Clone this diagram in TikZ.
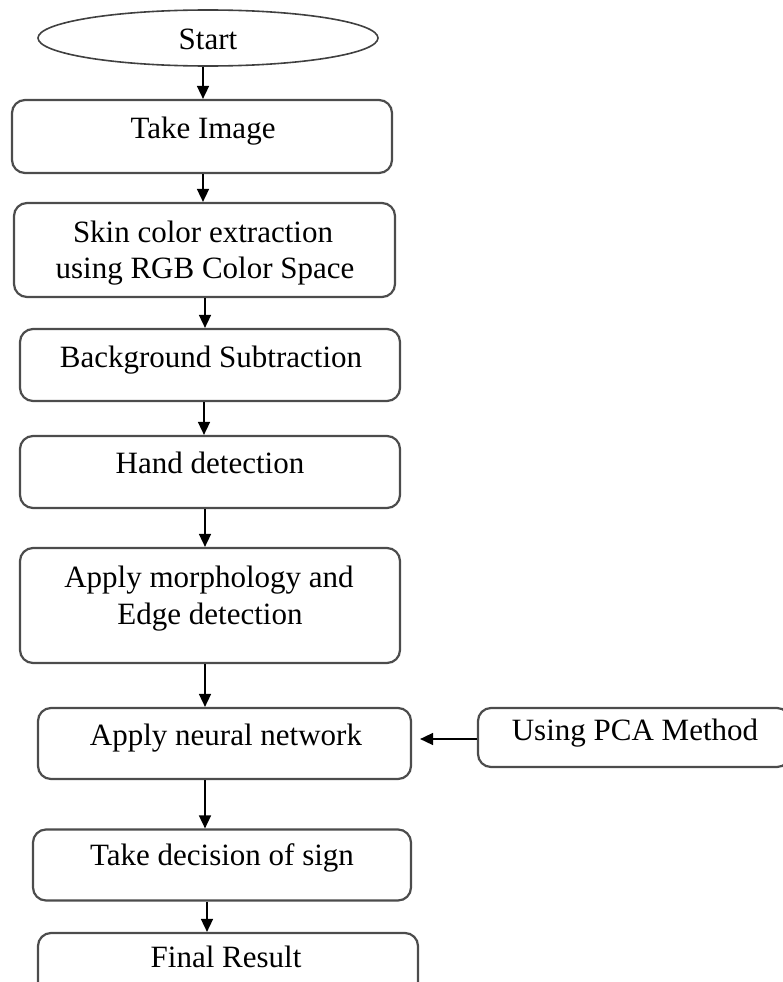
\documentclass[tikz,border=0pt]{standalone}
\usepackage{fontspec}
\setmainfont{Liberation Serif}
\usetikzlibrary{shapes.geometric,arrows.meta}
\begin{document}
\begin{tikzpicture}[x=1pt,y=-1pt,
  box/.style={draw=black!70, line width=2.2pt, rounded corners=13pt, inner sep=0pt},
  oval/.style={draw=black!75, line width=1.6pt, ellipse, inner sep=0pt, minimum width=340pt, minimum height=56pt},
  txt/.style={anchor=base, inner sep=0pt, font=\fontsize{31}{37}\selectfont},
  arr/.style={draw=black, line width=1.6pt, -{Triangle[length=13pt,width=12pt]}}]
\useasboundingbox (0,0) rectangle (783,982);
\clip (0,0) rectangle (783,982);
% shapes
\node[oval] (start) at (208,38) {};
\node[box, minimum width=380pt, minimum height=73pt] (take) at (202,136.5) {};
\node[box, minimum width=381pt, minimum height=94pt] (skin) at (204.5,250) {};
\node[box, minimum width=380pt, minimum height=72pt] (bg) at (210,365) {};
\node[box, minimum width=380pt, minimum height=72pt] (hand) at (210,472) {};
\node[box, minimum width=380pt, minimum height=115pt] (morph) at (210,605.5) {};
\node[box, minimum width=373pt, minimum height=71pt] (neural) at (224.5,743.5) {};
\node[box, minimum width=312pt, minimum height=59pt] (pca) at (634,737.5) {};
\node[box, minimum width=378pt, minimum height=71pt] (decision) at (222,865) {};
\node[box, minimum width=380pt, minimum height=80pt] (final) at (228,973) {};
% texts
\node[txt] (tstart) at (208,49) {Start};
\node[txt] (ttake) at (203,138) {Take Image};
\node[txt] (tskin1) at (203,242) {Skin color extraction};
\node[txt] (tskin2) at (205,278) {using RGB Color Space};
\node[txt] (tbg) at (211,367) {Background Subtraction};
\node[txt] (thand) at (210,473) {Hand detection};
\node[txt] (tmorph1) at (209,587) {Apply morphology and};
\node[txt] (tmorph2) at (210,624) {Edge detection};
\node[txt] (tneural) at (226,745) {Apply neural network};
\node[txt] (tpca) at (635,740) {Using PCA Method};
\node[txt] (tdec) at (222,865) {Take decision of sign};
\node[txt] (tfinal) at (226,967) {Final Result};
% arrow columns
\coordinate (c1) at (203,0);
\coordinate (c2) at (205,0);
\coordinate (c3) at (204,0);
\coordinate (c4) at (207,0);
\draw[arr] (start.south -| c1) -- (take.north -| c1);
\draw[arr] (take.south -| c1) -- (skin.north -| c1);
\draw[arr] (skin.south -| c2) -- (bg.north -| c2);
\draw[arr] (bg.south -| c3) -- (hand.north -| c3);
\draw[arr] (hand.south -| c2) -- (morph.north -| c2);
\draw[arr] (morph.south -| c2) -- (neural.north -| c2);
\draw[arr] (neural.south -| c2) -- (decision.north -| c2);
\draw[arr] (decision.south -| c4) -- (final.north -| c4);
\coordinate (pcay) at (0,739);
\draw[arr] (pca.west |- pcay) -- ([xshift=8pt]neural.east |- pcay);
\end{tikzpicture}
\end{document}
